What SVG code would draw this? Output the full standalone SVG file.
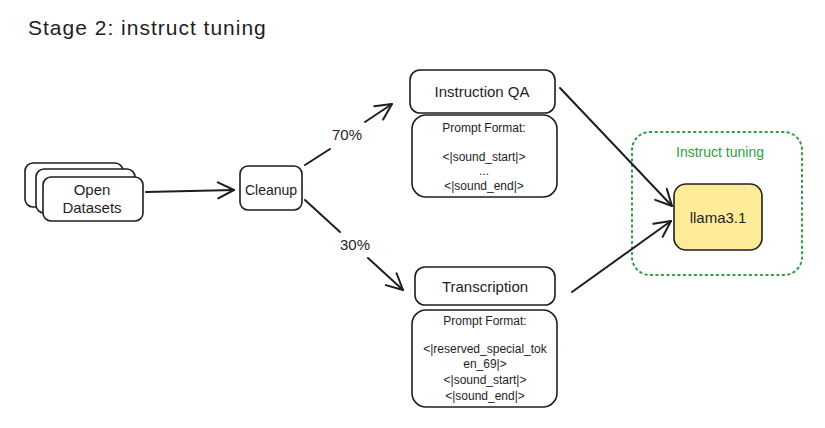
<svg xmlns="http://www.w3.org/2000/svg" width="825" height="428" viewBox="0 0 825 428">
<defs>
<marker id="arr" viewBox="0 0 20 20" refX="18" refY="10" markerWidth="20" markerHeight="20" markerUnits="userSpaceOnUse" orient="auto">
<path d="M2,2 L18,10 L2,18" fill="none" stroke="#1e1e1e" stroke-width="2" stroke-linecap="round" stroke-linejoin="round"/>
</marker>
</defs>
<style>
.box{fill:#ffffff;stroke:#1e1e1e;stroke-width:1.6}
.t{font-family:"Liberation Sans",Arial,sans-serif;fill:#1e1e1e;text-anchor:middle}
.m{font-size:15px}
.s{font-size:12px}
.edge{fill:none;stroke:#1e1e1e;stroke-width:2;stroke-linecap:round}
</style>
<rect width="825" height="428" fill="#ffffff"/>
<text x="28" y="35" style="font-family:'Liberation Sans',Arial,sans-serif;font-size:21px;letter-spacing:1px;fill:#1e1e1e">Stage 2: instruct tuning</text>

<g id="open-datasets">
<rect class="box" x="25" y="163" width="98" height="44" rx="8"/>
<rect class="box" x="36" y="169" width="99" height="44" rx="8"/>
<rect class="box" x="43" y="177" width="100" height="44" rx="8"/>
<text class="t m" x="92" y="195">Open</text>
<text class="t m" x="92" y="213">Datasets</text>
</g>

<g id="cleanup">
<rect class="box" x="240" y="166" width="62" height="44" rx="8"/>
<text class="t" x="271" y="195" style="font-size:14px">Cleanup</text>
</g>

<g id="instruction-qa">
<rect class="box" x="410" y="70" width="145" height="43" rx="10"/>
<text class="t m" x="482" y="97">Instruction QA</text>
</g>
<g id="instruction-qa-prompt">
<rect class="box" x="412" y="115" width="145" height="82" rx="14"/>
<text class="t s" x="484" y="132">Prompt Format:</text>
<text class="t s" x="484" y="161">&lt;|sound_start|&gt;</text>
<text class="t s" x="484" y="175">...</text>
<text class="t s" x="484" y="190">&lt;|sound_end|&gt;</text>
</g>

<g id="transcription">
<rect class="box" x="415" y="267" width="140" height="38" rx="10"/>
<text class="t m" x="485" y="292">Transcription</text>
</g>
<g id="transcription-prompt">
<rect class="box" x="412" y="310" width="145" height="97" rx="14"/>
<text class="t s" x="485" y="325">Prompt Format:</text>
<text class="t s" x="485" y="353">&lt;|reserved_special_tok</text>
<text class="t s" x="485" y="368">en_69|&gt;</text>
<text class="t s" x="485" y="384">&lt;|sound_start|&gt;</text>
<text class="t s" x="485" y="400">&lt;|sound_end|&gt;</text>
</g>

<g id="instruct-tuning">
<rect x="632" y="132" width="170" height="143" rx="18" fill="none" stroke="#2f9e44" stroke-width="2" stroke-dasharray="1.5 4" stroke-linecap="round"/>
<text x="720" y="157" style="font-family:'Liberation Sans',Arial,sans-serif;font-size:14px;fill:#2f9e44;text-anchor:middle">Instruct tuning</text>
</g>

<g id="llama">
<rect x="674" y="184" width="88" height="66" rx="12" fill="#ffec99" stroke="#1e1e1e" stroke-width="1.6"/>
<text class="t m" x="718" y="223">llama3.1</text>
</g>

<g id="connectors">
<line class="edge" x1="146" y1="192" x2="234" y2="190" marker-end="url(#arr)"/>
<line class="edge" x1="305" y1="165" x2="330" y2="149"/>
<line class="edge" x1="365" y1="122" x2="392" y2="104" marker-end="url(#arr)"/>
<line class="edge" x1="305" y1="200" x2="340" y2="232"/>
<line class="edge" x1="368" y1="258" x2="403" y2="290" marker-end="url(#arr)"/>
<line class="edge" x1="560" y1="88" x2="672" y2="206" marker-end="url(#arr)"/>
<line class="edge" x1="572" y1="292" x2="671" y2="221" marker-end="url(#arr)"/>
<text class="t m" x="347" y="140">70%</text>
<text class="t m" x="355" y="250">30%</text>
</g>
</svg>
